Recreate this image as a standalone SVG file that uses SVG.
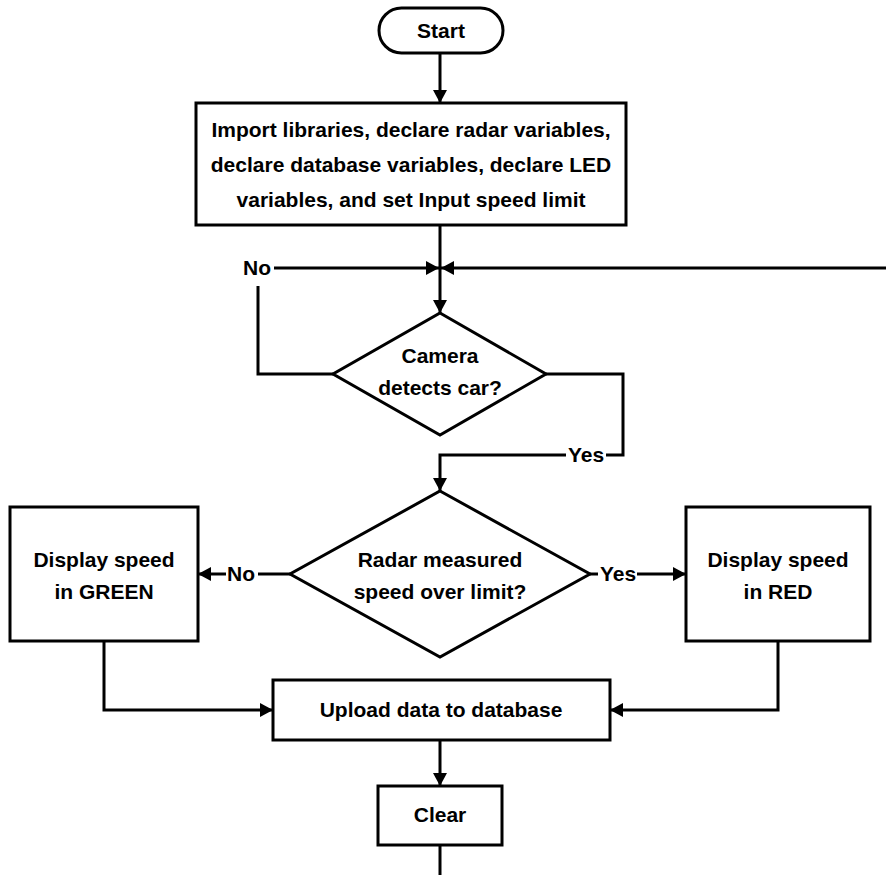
<svg xmlns="http://www.w3.org/2000/svg" width="886" height="875" viewBox="0 0 886 875">
<style>
.n{fill:#fff;stroke:#000;stroke-width:3}
.t{font-family:"Liberation Sans",Arial,sans-serif;font-weight:bold;font-size:21px;fill:#000;text-anchor:middle}
.c{fill:none;stroke:#000;stroke-width:3}
</style>
<defs>
<marker id="a" markerUnits="userSpaceOnUse" markerWidth="14" markerHeight="14" refX="13" refY="7" orient="auto"><path d="M0,0 L13,7 L0,14 z" fill="#000"/></marker>
</defs>
<rect width="886" height="875" fill="#fff"/>
<g id="connectors">
<path class="c" d="M440,54 V103" marker-end="url(#a)"/>
<path class="c" d="M440,225 V313" marker-end="url(#a)"/>
<path class="c" d="M333,374 H258 V286"/>
<path class="c" d="M274,268 H439" marker-end="url(#a)"/>
<path class="c" d="M886,268 H441" marker-end="url(#a)"/>
<path class="c" d="M546,374 H623 V455 H606"/>
<path class="c" d="M566,455 H440 V491" marker-end="url(#a)"/>
<path class="c" d="M290,574 H258"/>
<path class="c" d="M226,574 H198" marker-end="url(#a)"/>
<path class="c" d="M590,574 H598"/>
<path class="c" d="M637,574 H686" marker-end="url(#a)"/>
<path class="c" d="M104,641 V710 H273" marker-end="url(#a)"/>
<path class="c" d="M778,641 V710 H610" marker-end="url(#a)"/>
<path class="c" d="M440,740 V786" marker-end="url(#a)"/>
<path class="c" d="M440,845 V875"/>
<text class="t" x="257" y="275">No</text>
<text class="t" x="586" y="462">Yes</text>
<text class="t" x="241" y="581">No</text>
<text class="t" x="618" y="581">Yes</text>
</g>
<g id="start">
<rect class="n" x="379" y="8" width="124" height="45" rx="22.5"/>
<text class="t" x="441" y="38">Start</text>
</g>
<g id="init">
<rect class="n" x="196" y="103" width="430" height="122"/>
<text class="t" x="411" y="137">Import libraries, declare radar variables,</text>
<text class="t" x="411" y="172">declare database variables, declare LED</text>
<text class="t" x="411" y="207">variables, and set Input speed limit</text>
</g>
<g id="camera">
<polygon class="n" points="440,313 546,374 440,435 333,374"/>
<text class="t" x="440" y="363">Camera</text>
<text class="t" x="440" y="395">detects car?</text>
</g>
<g id="radar">
<polygon class="n" points="440,491 590,574 440,657 290,574"/>
<text class="t" x="440" y="567">Radar measured</text>
<text class="t" x="440" y="599">speed over limit?</text>
</g>
<g id="green">
<rect class="n" x="10" y="507" width="188" height="134"/>
<text class="t" x="104" y="567">Display speed</text>
<text class="t" x="104" y="599">in GREEN</text>
</g>
<g id="red">
<rect class="n" x="686" y="507" width="184" height="134"/>
<text class="t" x="778" y="567">Display speed</text>
<text class="t" x="778" y="599">in RED</text>
</g>
<g id="upload">
<rect class="n" x="273" y="680" width="337" height="60"/>
<text class="t" x="441" y="717">Upload data to database</text>
</g>
<g id="clear">
<rect class="n" x="378" y="786" width="124" height="59"/>
<text class="t" x="440" y="822">Clear</text>
</g>
</svg>
